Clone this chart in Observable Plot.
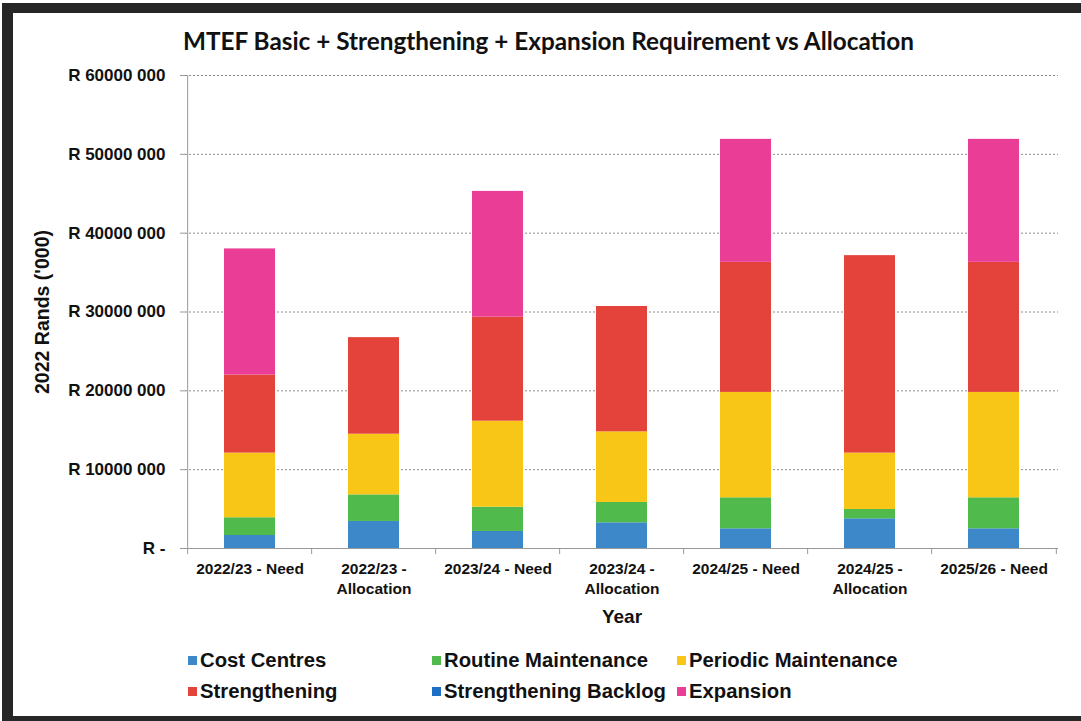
<!DOCTYPE html>
<html>
<head>
<meta charset="utf-8">
<script src="https://cdn.jsdelivr.net/npm/d3@7"></script>
<script src="https://cdn.jsdelivr.net/npm/@observablehq/plot@0.6"></script>
<style>
  html, body { margin: 0; padding: 0; background: #fff; overflow: hidden; }
  .bar { position: absolute; background: #262626; }
  #title { position: absolute; left: 183px; top: 26px; font-family: Lato, sans-serif; font-weight: 700; font-size: 24.3px; color: #111; white-space: nowrap; }
  #chart { position: absolute; left: 0; top: 0; }
  #legend { position: absolute; left: 188px; top: 649px; display: grid; grid-template-columns: 244px 245px 240px; row-gap: 8px;
    font-family: "Liberation Sans", Arial, sans-serif; font-weight: 700; font-size: 20.3px; color: #111; }
  .item { display: flex; align-items: center; white-space: nowrap; }
  .sw { width: 9px; height: 9px; margin-right: 3px; flex: none; }
</style>
</head>
<body>
<div class="bar" style="left:2px; top:3px; width:11px; height:718px;"></div>
<div class="bar" style="left:2px; top:3px; width:1079px; height:10px;"></div>
<div class="bar" style="left:2px; top:716px; width:1079px; height:5px;"></div>
<div id="chart"></div>
<div id="title">MTEF Basic + Strengthening + Expansion Requirement vs Allocation</div>
<div id="legend"></div>
<script>
// Categories (x axis)
const categories = [
  "2022/23 - Need", "2022/23 - Allocation", "2023/24 - Need", "2023/24 - Allocation",
  "2024/25 - Need", "2024/25 - Allocation", "2025/26 - Need"
];
// Series names, in stacking / legend order
const seriesNames = ["Cost Centres", "Routine Maintenance", "Periodic Maintenance", "Strengthening", "Strengthening Backlog", "Expansion"];
const seriesColors = ["#3d88c8", "#50bb4c", "#f7c617", "#e4433b", "#1c6fc4", "#ea3d95"];
// Values in 2022 Rands ('000), one per category
const costCentres          = [1650000, 3430000, 2160000, 3260000, 2500000, 3770000, 2500000];
const routineMaintenance   = [2250000, 3370000, 3080000, 2580000, 3930000, 1180000, 3930000];
const periodicMaintenance  = [8200000, 7700000, 10910000, 8960000, 13370000, 7150000, 13370000];
const strengthening        = [9900000, 12250000, 13200000, 15900000, 16500000, 25050000, 16500000];
const strengtheningBacklog = [0, 0, 0, 0, 0, 0, 0];
const expansion            = [16000000, 0, 15950000, 0, 15600000, 0, 15600000];
const yTicks = [0, 10000000, 20000000, 30000000, 40000000, 50000000, 60000000];

const seriesValues = [costCentres, routineMaintenance, periodicMaintenance, strengthening, strengtheningBacklog, expansion];
const data = [];
seriesNames.forEach((s, si) => categories.forEach((c, ci) => data.push({category: c, series: s, value: seriesValues[si][ci]})));

const W = 1081, H = 640, mL = 185, mR = 23, mT = 75, mB = 92;
const step = (W - mL - mR) / categories.length;
const font = "'Liberation Sans', Arial, sans-serif";

const plot = Plot.plot({
  width: W, height: H,
  marginLeft: mL, marginRight: mR, marginTop: mT, marginBottom: mB,
  style: {background: "transparent", fontFamily: font, color: "#111"},
  x: {domain: categories, paddingInner: 0.59, paddingOuter: 0.295, label: null},
  y: {domain: [0, 60000000], label: null},
  color: {domain: seriesNames, range: seriesColors},
  marks: [
    Plot.gridY(yTicks, {stroke: "#8a8a8a", strokeOpacity: 1, strokeDasharray: "2,2", strokeWidth: 1}),
    Plot.barY(data, {x: "category", y: "value", fill: "series", order: seriesNames}),
    // y axis line (left edge of first band)
    Plot.ruleX([categories[0]], {dx: -step / 2, stroke: "#999"}),
    // x axis baseline
    Plot.ruleY([0], {stroke: "#999"}),
    // boundary ticks under the x axis
    Plot.ruleX(categories, {x: d => d, dx: -step / 2, y1: 0, y2: 0, insetBottom: -6, stroke: "#999"}),
    Plot.ruleX([categories[categories.length - 1]], {dx: step / 2, y1: 0, y2: 0, insetBottom: -6, stroke: "#999"}),
    Plot.axisY(yTicks, {
      tickSize: 5, tickPadding: 15, stroke: "#999",
      tickFormat: d => d === 0 ? "R -" : "R " + Math.round(d / 1000) + " 000",
      fontSize: 17, fontWeight: "bold", fill: "#111", label: null
    }),
    Plot.axisX({
      tickSize: 0, tickPadding: 11,
      tickFormat: d => d.replace(" - Allocation", " -\nAllocation"),
      fontSize: 15.5, fontWeight: "bold", fill: "#111", lineHeight: 1.3, label: null
    }),
    Plot.text(["Year"], {frameAnchor: "bottom", dy: 74, fontSize: 19, fontWeight: "bold", fill: "#111"}),
    Plot.text(["2022 Rands ('000)"], {frameAnchor: "left", dx: -143, rotate: -90, textAnchor: "middle", fontSize: 19.5, fontWeight: "bold", fill: "#111"})
  ]
});
document.getElementById("chart").appendChild(plot);

const legend = document.getElementById("legend");
seriesNames.forEach((s, i) => {
  const it = document.createElement("div");
  it.className = "item";
  it.innerHTML = `<span class="sw" style="background:${seriesColors[i]}"></span><span>${s}</span>`;
  legend.appendChild(it);
});
</script>
</body>
</html>
